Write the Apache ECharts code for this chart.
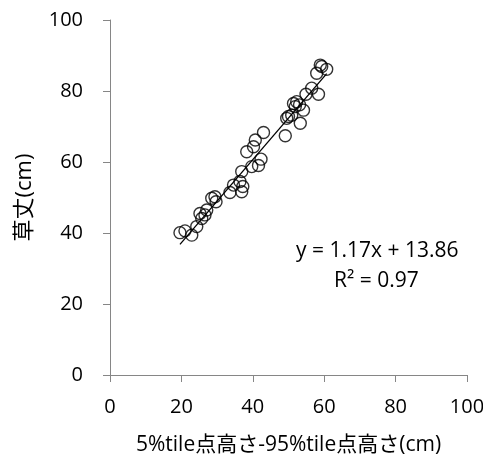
<!DOCTYPE html>
<html><head><meta charset="utf-8">
<script src="https://cdn.jsdelivr.net/npm/echarts@6/dist/echarts.min.js"></script>
<style>html,body{margin:0;padding:0;background:#fff}#c{width:483px;height:459px}</style>
</head><body><div id="c"></div>
<script>
var xValues = [19.6,21.0,22.9,24.3,25.2,25.7,26.6,27.1,28.5,29.4,29.7,33.6,34.6,36.4,36.9,37.2,36.9,38.3,39.7,40.2,40.7,41.6,42.3,43.0,49.1,49.5,50.0,50.9,51.4,51.9,52.3,53.1,53.3,54.2,54.9,56.5,57.9,58.4,58.9,59.3,60.7];
var yValues = [40.1,40.6,39.4,41.8,45.5,44.1,45.1,46.5,49.8,50.2,48.8,51.4,53.5,54.5,57.3,53.1,51.6,62.9,58.7,64.3,66.2,59.0,60.8,68.3,67.4,72.3,72.8,73.2,76.5,75.6,77.0,76.1,70.9,74.6,79.1,80.8,85.0,79.1,87.3,86.9,86.1];
var slope = 1.17, intercept = 13.86;
var axisTicks = [0,20,40,60,80,100];
var xTitle = '5%tile点高さ-95%tile点高さ(cm)';
var yTitle = '草丈(cm)';
var eqText = 'y = 1.17x + 13.86';
var r2Text = 'R² = 0.97';

var pts = xValues.map(function(x,i){return [x,yValues[i]];});
var xmin = Math.min.apply(null,xValues), xmax = Math.max.apply(null,xValues);
var trend = [[xmin, slope*xmin+intercept],[xmax, slope*xmax+intercept]];
var FONT = '"Open Sans","Noto Sans CJK JP",sans-serif';
var chart = echarts.init(document.getElementById('c'));
var axisCommon = {
  type:'value', min:axisTicks[0], max:axisTicks[axisTicks.length-1], interval:axisTicks[1]-axisTicks[0],
  axisLine:{show:true,lineStyle:{color:'#868686',width:1}},
  axisTick:{show:true,inside:false,length:7,lineStyle:{color:'#868686'}},
  splitLine:{show:false},
  axisLabel:{color:'#000',fontSize:20,fontFamily:FONT}
};
chart.setOption({
  animation:false,
  grid:{left:110,right:16,top:20,bottom:84,containLabel:false,outerBoundsMode:'none'},
  xAxis: Object.assign({}, axisCommon, {
    axisLabel:Object.assign({}, axisCommon.axisLabel,{margin:22}),
    name:xTitle, nameLocation:'middle', nameGap:60,
    nameTextStyle:{color:'#000',fontSize:21,fontFamily:FONT}
  }),
  yAxis: Object.assign({}, axisCommon, {
    axisLabel:Object.assign({}, axisCommon.axisLabel,{margin:27}),
    name:yTitle, nameLocation:'middle', nameGap:74, nameRotate:90,
    nameTextStyle:{color:'#000',fontSize:22,fontFamily:FONT}
  }),
  series:[
    {type:'line', data:trend, symbol:'none', lineStyle:{color:'#000',width:1.3}, z:1},
    {type:'scatter', data:pts, symbol:'circle', symbolSize:12,
     itemStyle:{color:'rgba(255,255,255,0)',borderColor:'#000',borderWidth:1.4}, z:2}
  ],
  graphic:[
    {type:'text', left:296, top:241, style:{text:eqText, fill:'#000', font:'21px '+FONT}},
    {type:'text', left:334, top:271, style:{text:r2Text, fill:'#000', font:'21px '+FONT}}
  ]
});
</script></body></html>
